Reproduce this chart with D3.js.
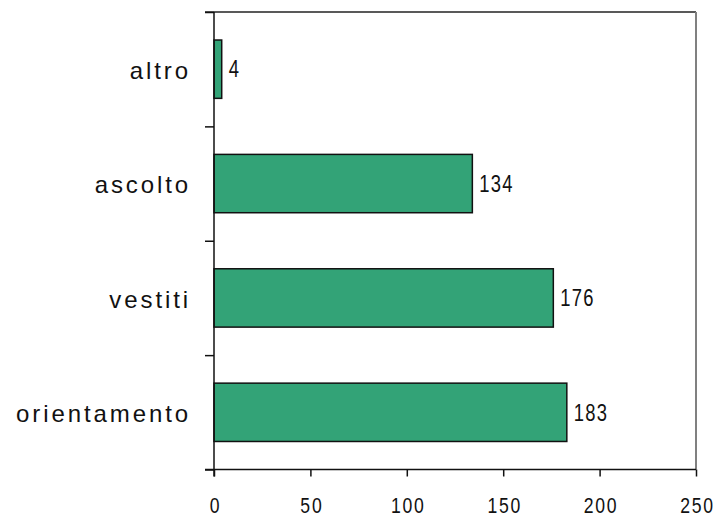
<!DOCTYPE html>
<html>
<head>
<meta charset="utf-8">
<script src="https://cdn.jsdelivr.net/npm/d3@7"></script>
<style>
  body { margin: 0; background: #fff; }
  svg { display: block; }
  .cat text { font-family: "Liberation Sans", Arial, sans-serif; font-size: 24px; letter-spacing: 2.9px; fill: #111; }
  .num { font-family: "Liberation Sans Narrow", "Liberation Sans", Arial, sans-serif; letter-spacing: 1.5px; fill: #111; }
</style>
</head>
<body>
<svg width="715" height="517"></svg>
<script>
// data
const categories = ['altro', 'ascolto', 'vestiti', 'orientamento'];
const counts = [4, 134, 176, 183];
const xTicks = [0, 50, 100, 150, 200, 250];

const plotLeft = 214;
const plotRight = 696;
const plotTop = 12;
const plotBottom = 469.5;
const squeeze = 0.8; // no narrow font installed, so squash the digits

const svg = d3.select('svg');

const x = d3.scaleLinear().domain([0, 250]).range([plotLeft, plotRight]);
const y = d3.scaleBand().domain(categories).range([plotTop, plotBottom])
    .paddingInner(0.49).paddingOuter(0.245);
const yEdge = d3.scaleLinear().domain([0, categories.length]).range([plotTop, plotBottom]);

// frame: top line dark, right line grey
svg.append('line')
    .attr('x1', plotLeft - 9).attr('x2', plotRight)
    .attr('y1', plotTop).attr('y2', plotTop)
    .attr('stroke', '#222').attr('stroke-width', 1.5);
svg.append('line')
    .attr('x1', plotRight).attr('x2', plotRight)
    .attr('y1', plotTop).attr('y2', plotBottom)
    .attr('stroke', '#808080').attr('stroke-width', 2);

// bars
svg.append('g').selectAll('rect')
    .data(categories)
    .join('rect')
    .attr('x', x(0))
    .attr('y', (d) => y(d))
    .attr('width', (d, i) => x(counts[i]) - x(0))
    .attr('height', y.bandwidth())
    .attr('fill', '#33a377')
    .attr('stroke', '#111')
    .attr('stroke-width', 1.5);

// value labels
svg.append('g').selectAll('text')
    .data(categories)
    .join('text')
    .attr('class', 'num')
    .attr('transform', (d, i) =>
      `translate(${x(counts[i]) + 7},${y(d) + y.bandwidth() / 2}) scale(${squeeze},1)`)
    .attr('dy', '0.36em')
    .style('font-size', '23px')
    .text((d, i) => counts[i]);

// y axis: boundary ticks
const yAxis = svg.append('g')
    .attr('transform', `translate(${plotLeft},0)`)
    .call(d3.axisLeft(yEdge).ticks(categories.length).tickSize(9).tickFormat(''));
yAxis.select('.domain').attr('stroke', '#111').attr('stroke-width', 1.5)
    .attr('d', `M0,${plotTop}V${plotBottom + 7}`);
yAxis.selectAll('.tick line').attr('stroke', '#111').attr('stroke-width', 1.5);

// category labels
const catAxis = svg.append('g')
    .attr('class', 'cat')
    .attr('transform', `translate(${plotLeft},0)`)
    .call(d3.axisLeft(y).tickSize(0).tickPadding(23));
catAxis.select('.domain').remove();
catAxis.attr('font-size', null).attr('font-family', null);
catAxis.selectAll('text').attr('dy', '0.4em');

// x axis
const xAxis = svg.append('g')
    .attr('transform', `translate(0,${plotBottom})`)
    .call(d3.axisBottom(x).tickValues(xTicks).tickSize(7).tickPadding(0));
xAxis.select('.domain').attr('stroke', '#111').attr('stroke-width', 1.5)
    .attr('d', `M${plotLeft - 9},0H${plotRight}`);
xAxis.selectAll('.tick line').attr('stroke', '#111').attr('stroke-width', 1.5);
xAxis.attr('font-size', null).attr('font-family', null);
xAxis.selectAll('.tick text')
    .attr('class', 'num')
    .style('font-size', '22px')
    .style('letter-spacing', '2.2px')
    .attr('y', null)
    .attr('dy', null)
    .attr('transform', `translate(1,${513 - plotBottom}) scale(${squeeze},1)`);
</script>
</body>
</html>
